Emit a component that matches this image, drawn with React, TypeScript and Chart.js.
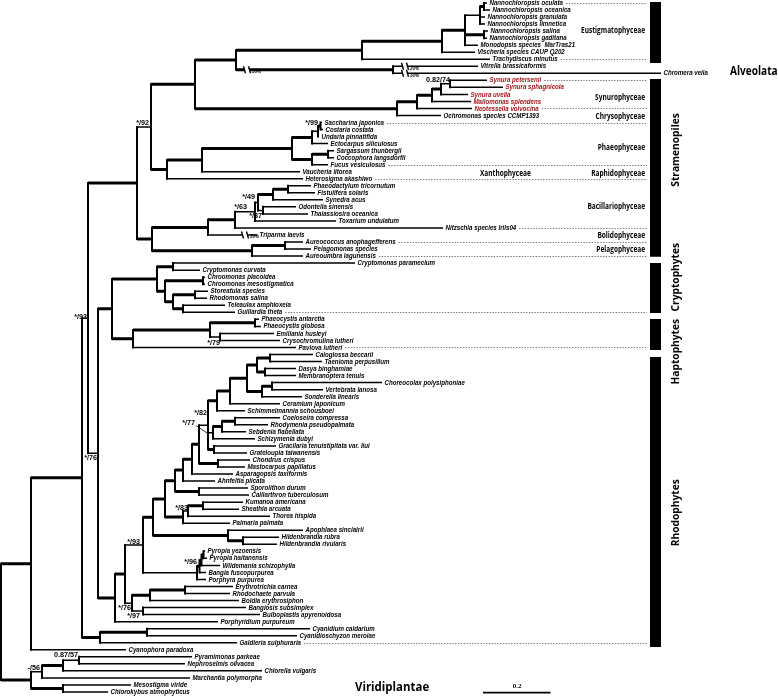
import React, { useEffect, useRef } from "react";
import { Chart, registerables } from "chart.js";

Chart.register(...registerables);

const WIDTH = 778;
const HEIGHT = 697;
const Y_MIN = -0.427;
const Y_MAX = 98.72;

// ---- taxa (leaves), top to bottom ----
const leafNames: string[] = [
  "Nannochloropsis oculata", "Nannochloropsis oceanica", "Nannochloropsis granulata", "Nannochloropsis limnetica",
  "Nannochloropsis salina", "Nannochloropsis gaditana", "Monodopsis species  MarTras21", "Vischeria species CAUP Q202",
  "Trachydiscus minutus", "Vitrella brassicaformis", "Chromera velia",
  "Synura petersenii", "Synura sphagnicola", "Synura uvella", "Mallomonas splendens", "Neotessella volvocina",
  "Ochromonas species CCMP1393",
  "Saccharina japonica", "Costaria costata", "Undaria pinnatifida", "Ectocarpus siliculosus", "Sargassum thunbergii",
  "Coccophora langsdorfii", "Fucus vesiculosus", "Vaucheria litorea", "Heterosigma akashiwo",
  "Phaeodactylum tricornutum", "Fistulifera solaris", "Synedra acus", "Odontella sinensis", "Thalassiosira oceanica",
  "Toxarium undulatum", "Nitzschia species Irils04", "Triparma laevis",
  "Aureococcus anophagefferens", "Pelagomonas species", "Aureoumbra lagunensis",
  "Cryptomonas paramecium", "Cryptomonas curvata", "Chroomonas placoidea", "Chroomonas mesostigmatica",
  "Storeatula species", "Rhodomonas salina", "Teleaulax amphioxeia", "Guillardia theta",
  "Phaeocystis antarctia", "Phaeocystis globosa", "Emiliania husleyi", "Crysochromulina lutheri", "Pavlova lutheri",
  "Caloglossa beccarii", "Taenioma perpusillum", "Dasya binghamiae", "Membranoptera tenuis", "Choreocolax polysiphoniae",
  "Vertebrata lanosa", "Sonderella linearis", "Ceramium japonicum", "Schimmelmannia schousboei", "Coeloseira compressa",
  "Rhodymenia pseudopalmata", "Sebdenia flabellata", "Schizymenia dubyi", "Gracilaria tenuistipitata var. liui",
  "Grateloupia taiwanensis", "Chondrus crispus", "Mastocarpus papillatus", "Asparagopsis taxiformis", "Ahnfeltia plicata",
  "Sporolithon durum", "Calliarthron tuberculosum", "Kumanoa americana", "Sheathia arcuata", "Thorea hispida",
  "Palmaria palmata", "Apophlaea sinclairii", "Hildenbrandia rubra", "Hildenbrandia rivularis",
  "Pyropia yezoensis", "Pyropia haitanensis", "Wildemania schizophylla", "Bangia fuscopurpurea", "Porphyra purpurea",
  "Erythrotrichia carnea", "Rhodochaete parvula", "Boldia erythrosiphon", "Bangiosis subsimplex", "Bulboplastis apyrenoidosa",
  "Porphyridium purpureum", "Cyanidium caldarium", "Cyanidioschyzon merolae", "Galdieria sulphuraria",
  "Cyanophora paradoxa", "Pyramimonas parkeae", "Nephroselmis olivacea", "Chlorella vulgaris", "Marchantia polymorpha",
  "Mesostigma viride", "Chlorokybus atmophyticus",
];

// tip position (cumulative branch length, drawn units) of each leaf
const leafTip: number[] = [
  487, 490, 485, 485, 488, 487, 478, 475, 490, 478, 661,
  487, 503, 468, 471, 472, 441,
  322, 323, 319, 328, 334, 334, 328, 300, 303,
  311, 315, 323, 296, 308, 336, 443, 257,
  303, 311, 303,
  355, 200, 205, 205, 208, 207, 225, 235,
  259, 261, 274, 280, 296,
  313, 322, 296, 296, 382, 323, 302, 280, 245, 280,
  268, 246, 255, 276, 247, 250, 245, 233, 215,
  248, 249, 243, 239, 270, 230, 303, 279, 277,
  205, 207, 220, 206, 206, 233, 230, 239, 246, 260,
  218, 310, 297, 237,
  126, 192, 185, 262, 190, 131, 108,
];

const redLeaves: number[] = [11, 12, 13, 14, 15];

// ---- internal nodes ----
const nodeIds: string[] = [
  "root", "n31a", "n82", "n88", "n137", "n151", "n195", "n236", "n362", "n442",
  "n465", "n480", "n484a", "n484b", "n393", "n397", "n417", "n432", "n441", "n450",
  "n167", "n202", "n292", "n312a", "n318", "n321", "n312b", "n328", "n152", "n208s",
  "n235", "n255", "n258", "n273", "n288", "n263", "n252", "n285", "n98", "n112",
  "n157", "n173a", "n165", "n203", "n173b", "n195c", "n183c", "n133", "n210", "n255p",
  "n220", "n115", "n125", "n143", "n153", "nX", "n175", "n183", "n192", "n199",
  "n208", "n217", "n230", "n247", "n257", "n270", "n265", "n262", "n272", "n213",
  "n222", "n235r", "nGG", "n218", "nSC", "n183b", "n188", "nKS", "n228", "nH",
  "nB1", "nB2", "nB3", "nB4", "n132", "n150", "n185", "n143b", "n100", "n147",
  "n31b", "n42", "n63", "n79", "n63b",
];

const nodeDepth: number[] = [
  1, 31, 82, 88, 137, 151, 195, 236, 362, 442,
  465, 480, 484, 484, 393, 397, 417, 432, 441, 450,
  167, 202, 292, 312, 318, 320.5, 312, 328, 152, 208,
  235, 255, 258, 273, 288, 263, 252, 285, 98, 112,
  157, 173, 165, 203, 173, 195, 183, 133, 210, 255,
  220, 115, 125, 143, 153, 165, 175, 183, 192, 199,
  208, 217, 230, 247, 257, 270, 265, 262, 272, 213,
  222, 235, 214, 218, 199, 183, 188, 203, 228, 243,
  197, 199.5, 201.5, 203.5, 132, 150, 185, 143, 100, 147,
  31, 42, 63, 79, 63,
];

const nodeKids: (string | number)[][] = [
  ["n31a", "n31b"], ["n82", 92], ["n88", "n100"], ["n137", "n98"], ["n151", "n152"],
  ["n195", "n167"], ["n236", "n397"], ["n362", "n393"], ["n442", 8], ["n465", 7],
  ["n480", "n484b", 6], ["n484a", 2, 3], [0, 1], [4, 5], [9, 10],
  ["n417", 16], ["n432", 15], ["n441", 14], ["n450", 13], [11, 12],
  ["n202", 25], ["n292", 24], ["n312a", "n312b"], ["n318", 20], ["n321", 19],
  [17, 18], ["n328", 23], [21, 22], ["n208s", "n252"], ["n235", 33],
  ["n255", 32], ["n258", 31], ["n273", "n263"], ["n288", 28], [26, 27],
  [29, 30], ["n285", 36], [34, 35], ["n112", "n115"], ["n157", "n133"],
  ["n173a", "n165"], [37, 38], ["n203", "n173b"], [39, 40], ["n195c", "n183c"],
  [41, 42], [43, 44], ["n210", 49], ["n255p", "n220"], [45, 46],
  [47, 48], ["n125", 88], ["n143", "n132"], ["n153", "nB1"], ["nX", "n228"],
  ["n175", "n183b"], ["n183", "nSC"], ["n192", 68], ["n199", 67], ["n208", "n218"],
  ["n217", "n213", "nGG"], ["n230", 58], ["n247", 57], ["n257", "n262"], ["n270", "n265"],
  [50, 51], [52, 53], ["n272", 56], [54, 55], ["n222", 62],
  ["n235r", 61], [59, 60], [63, 64], [65, 66], [69, 70],
  ["n188", 74], ["nKS", 73], [71, 72], [75, "nH"], [76, 77],
  ["nB2", 82], ["nB3", 81], ["nB4", 80], [78, 79], ["n150", "n143b"],
  ["n185", 85], [83, 84], [86, 87], ["n147", 91], [89, 90],
  ["n42", "n63b"], ["n63", 96], ["n79", 95], [93, 94], [97, 98],
];

// stems drawn thin (not fully supported)
const thinStems: string[] = [
  "n151", "n450", "n318", "n255", "n258", "n263", "n220", "n98", "n88", "n132",
  "n143b", "n143", "nB1", "n188", "n208", "n213", "n42", "n79", "n480",
];

// ---- support values ----
const supportText: string[] = [
  "*/92", "0.82/74", "*/99", "*/49", "*/63", "*/87", "*/93", "*/79", "*/82", "*/77",
  "*/76", "*/83", "*/93", "*/96", "*/76", "*/97", "0.87/57", "-/56",
];
const supportRight: number[] = [149, 450, 318, 255, 247, 262, 87, 220, 207, 195, 97, 188, 140, 197, 131, 140, 78, 40];
const supportRow: number[] = [17.07, 10.95, 17.07, 27.6, 29.0, 30.2, 44.7, 48.4, 58.3, 59.7, 64.7, 71.8, 76.7, 79.5, 86.1, 87.1, 92.7, 94.6];

// ---- shortened branches ----
const breakDepth: number[] = [247, 405, 405, 245];
const breakRow: number[] = [9.5, 9, 10, 33];
const breakText: string[] = ["30%", "20%", "30%", "30%"];

// leader for */77
const leaderDepth: number[] = [196, 207.5];
const leaderRow: number[] = [60.1, 61.2];

// ---- right-hand annotation ----
const dottedRows: number[] = [0, 8, 11, 15, 17, 23, 25, 32, 34, 36, 44, 49, 91];
const dottedEnd = 647;

const barStart: number[] = [-0.14, 10.8, 37.0, 44.95, 50.36];
const barEnd: number[] = [8.53, 36.1, 44.1, 49.36, 91.6];
const barDepth = 655.5;

const classNames: string[] = [
  "Eustigmatophyceae", "Synurophyceae", "Chrysophyceae", "Phaeophyceae", "Raphidophyceae",
  "Bacillariophyceae", "Bolidophyceae", "Pelagophyceae",
];
const classRow: number[] = [3.84, 13.5, 16.2, 20.5, 24.3, 29.0, 33.1, 35.1];
const classRight = 645;

const cladeNames: string[] = ["Stramenopiles", "Cryptophytes", "Haptophytes", "Rhodophytes"];
const cladeRow: number[] = [20.9, 39.0, 49.6, 72.5];
const cladeDepth = 676;

const scaleBarValue = 0.2;
const unitsPerSubstitution = 337.5;
const scaleBarStart = 483;
const scaleBarRow = 98.1;

// ---- build tree geometry ----
const nodeIndex = new Map<string, number>(nodeIds.map((id, i) => [id, i]));
const yMemo = new Map<string, number>();
function yOf(k: string | number): number {
  if (typeof k === "number") return k;
  if (yMemo.has(k)) return yMemo.get(k)!;
  const kids = nodeKids[nodeIndex.get(k)!];
  const v = (yOf(kids[0]) + yOf(kids[kids.length - 1])) / 2;
  yMemo.set(k, v);
  return v;
}

type P = { x: number; y: number | null };
const thick: P[] = [];
const thin: P[] = [];
const vert: P[] = [];
const seg = (arr: P[], x1: number, y1: number, x2: number, y2: number) => {
  arr.push({ x: x1, y: y1 }, { x: x2, y: y2 }, { x: x2, y: null });
};
nodeIds.forEach((id, i) => {
  const kids = nodeKids[i];
  const px = nodeDepth[i];
  const ys = kids.map(yOf);
  seg(vert, px, ys[0], px, ys[ys.length - 1]);
  kids.forEach((k, j) => {
    if (typeof k === "number") seg(thin, px, k, leafTip[k], k);
    else seg(thinStems.includes(k) ? thin : thick, px, ys[j], nodeDepth[nodeIndex.get(k)!], ys[j]);
  });
});

const bars: P[] = [];
barStart.forEach((s, i) => seg(bars, barDepth, s, barDepth, barEnd[i]));
const scaleBar: P[] = [];
seg(scaleBar, scaleBarStart, scaleBarRow, scaleBarStart + scaleBarValue * unitsPerSubstitution, scaleBarRow);
const leader: P[] = [];
seg(leader, leaderDepth[0], leaderRow[0], leaderDepth[1], leaderRow[1]);

const lineDs = (data: P[], w: number, cap: "butt" | "square" = "butt") => ({
  data,
  showLine: true,
  borderColor: "#000",
  backgroundColor: "#000",
  borderWidth: w,
  borderCapStyle: cap,
  pointRadius: 0,
  pointHoverRadius: 0,
  spanGaps: false,
  tension: 0,
});

function drawText(
  ctx: CanvasRenderingContext2D, s: string, px: number, py: number, font: string,
  align: CanvasTextAlign, sx: number, color = "#000", rot = 0,
) {
  ctx.save();
  ctx.translate(px, py);
  if (rot) ctx.rotate(rot);
  ctx.scale(sx, 1);
  ctx.font = font;
  ctx.fillStyle = color;
  ctx.textAlign = align;
  ctx.textBaseline = "middle";
  ctx.fillText(s, 0, 0);
  ctx.restore();
}

const LEAF_FONT = 'italic bold 7.7px "Liberation Sans"';
const LEAF_SX = 0.8;
const HEAD_FONT = '"Open Sans", "Noto Sans", sans-serif';

const annotPlugin = {
  id: "treeAnnotations",
  afterDatasetsDraw(chart: any) {
    const ctx: CanvasRenderingContext2D = chart.ctx;
    const xs = chart.scales.x;
    const ysc = chart.scales.y;
    const X = (v: number) => xs.getPixelForValue(v);
    const Y = (v: number) => ysc.getPixelForValue(v);

    // branch breaks
    breakDepth.forEach((d, i) => {
      const px = X(d);
      const py = Y(breakRow[i]);
      ctx.save();
      ctx.fillStyle = "#fff";
      ctx.fillRect(px - 2, py - 2.5, 4, 5);
      ctx.strokeStyle = "#000";
      ctx.lineWidth = 1.4;
      ctx.beginPath();
      ctx.moveTo(px - 3.5, py - 3.5);
      ctx.lineTo(px - 1.5, py + 3.5);
      ctx.moveTo(px + 1.5, py - 3.5);
      ctx.lineTo(px + 3.5, py + 3.5);
      ctx.stroke();
      ctx.restore();
      drawText(ctx, breakText[i], px + 5, py + 2, 'bold 4.5px "Liberation Sans"', "left", 1);
    });

    // leaf labels + dotted guides
    leafNames.forEach((name, i) => {
      const lx = X(leafTip[i]) + 2.5;
      const ly = Y(i);
      const color = redLeaves.includes(i) ? "#a3161b" : "#000";
      drawText(ctx, name, lx, ly, LEAF_FONT, "left", LEAF_SX, color);
      if (dottedRows.includes(i)) {
        ctx.save();
        ctx.font = LEAF_FONT;
        const w = ctx.measureText(name).width * LEAF_SX;
        ctx.strokeStyle = "#555";
        ctx.lineWidth = 0.8;
        ctx.setLineDash([1.4, 1.4]);
        ctx.beginPath();
        ctx.moveTo(lx + w + 3, Math.round(ly) + 0.5);
        ctx.lineTo(X(dottedEnd), Math.round(ly) + 0.5);
        ctx.stroke();
        ctx.restore();
      }
    });

    // support values
    supportText.forEach((s, i) => {
      drawText(ctx, s, X(supportRight[i]), Y(supportRow[i]), 'bold 8px "Liberation Sans"', "right", 0.9);
    });

    // class labels
    classNames.forEach((s, i) => {
      drawText(ctx, s, X(classRight), Y(classRow[i]), `bold 8.8px ${HEAD_FONT}`, "right", 0.74);
    });
    drawText(ctx, "Xanthophyceae", X(480), Y(24.2), `bold 8.8px ${HEAD_FONT}`, "left", 0.74);

    // clade labels (rotated)
    cladeNames.forEach((s, i) => {
      drawText(ctx, s, X(cladeDepth), Y(cladeRow[i]), `bold 10.5px ${HEAD_FONT}`, "center", 0.97, "#000", -Math.PI / 2);
    });
    drawText(ctx, "Alveolata", X(730), Y(9.8), `bold 12px ${HEAD_FONT}`, "left", 0.84);
    drawText(ctx, "Viridiplantae", X(355), Y(97.4), `bold 13px ${HEAD_FONT}`, "left", 0.88);

    // scale bar label
    drawText(ctx, String(scaleBarValue), X(517), Y(97.25), 'bold 7px "Liberation Serif"', "center", 1);
  },
};

export default function App() {
  const ref = useRef<HTMLCanvasElement>(null);
  useEffect(() => {
    if (!ref.current) return;
    const chart = new Chart(ref.current, {
      type: "scatter",
      data: {
        datasets: [
          lineDs(vert, 2, "square"),
          lineDs(thin, 1.5),
          lineDs(thick, 3),
          lineDs(bars, 11),
          lineDs(scaleBar, 1.6),
          lineDs(leader, 0.8),
        ] as any,
      },
      options: {
        responsive: false,
        animation: false,
        events: [],
        layout: { padding: 0 },
        scales: {
          x: { type: "linear", min: 0, max: WIDTH, display: false },
          y: { type: "linear", min: Y_MIN, max: Y_MAX, reverse: true, display: false },
        },
        plugins: { legend: { display: false }, tooltip: { enabled: false } },
      },
      plugins: [annotPlugin],
    });
    return () => chart.destroy();
  }, []);
  return (
    <div style={{ position: "absolute", left: 0, top: 0, width: WIDTH, height: HEIGHT, background: "#fff" }}>
      <canvas ref={ref} width={WIDTH} height={HEIGHT} style={{ display: "block", width: WIDTH, height: HEIGHT }} />
    </div>
  );
}
